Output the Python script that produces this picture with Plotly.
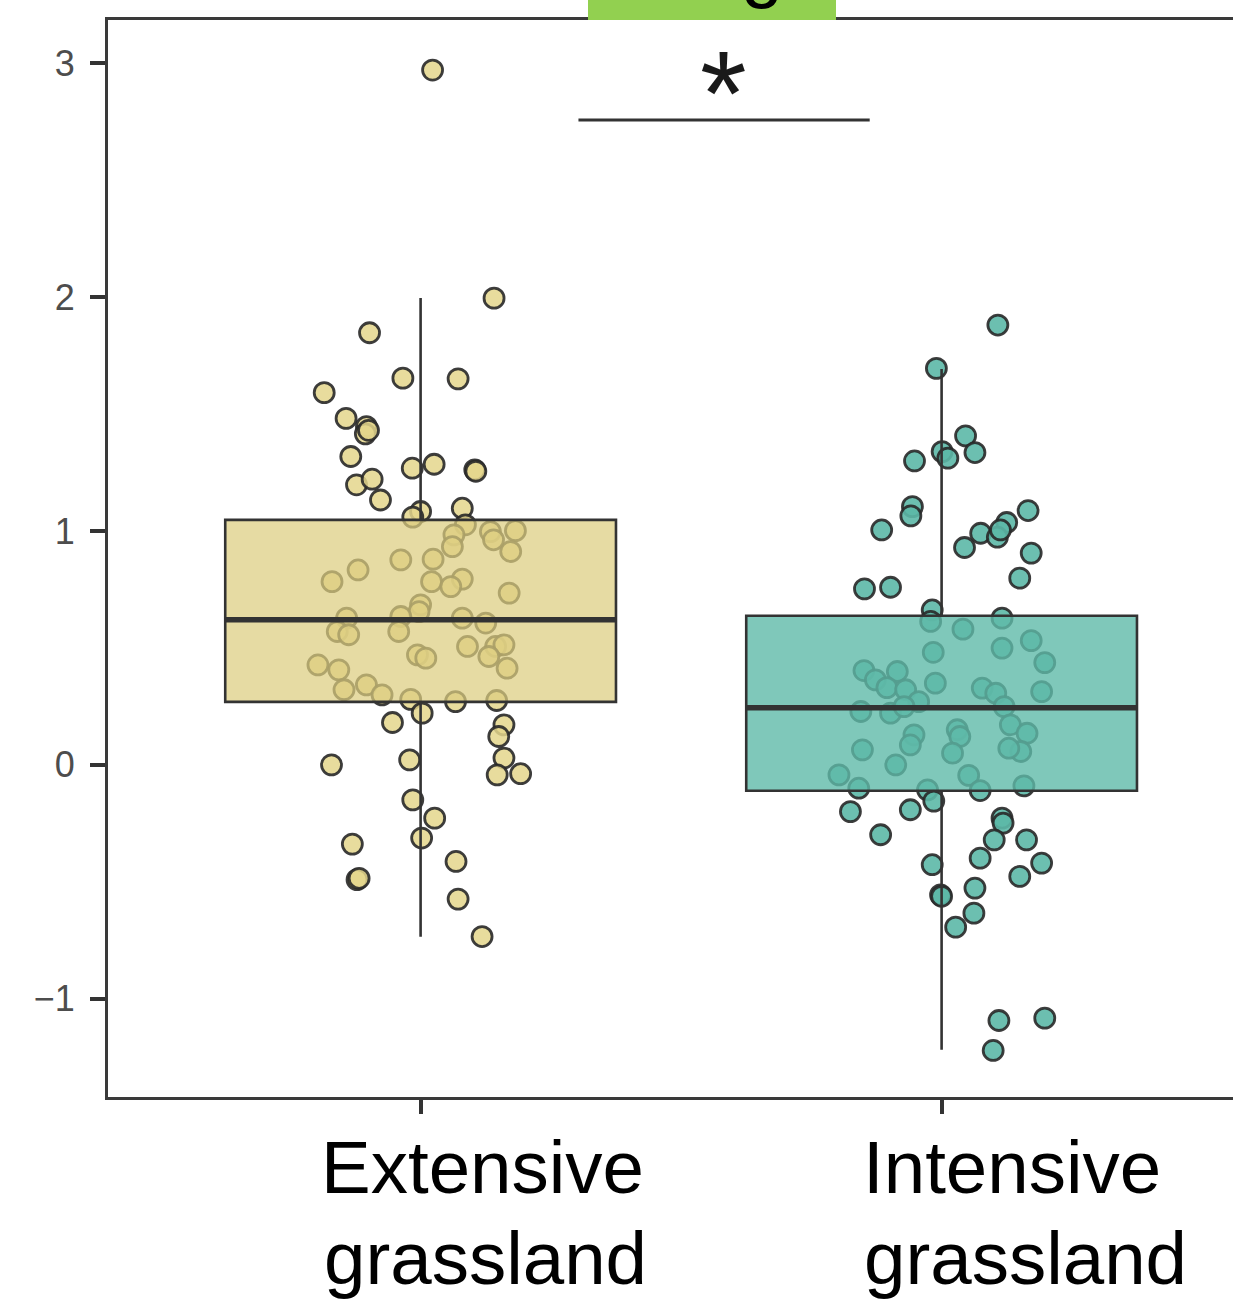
import plotly.graph_objects as go

# ---------------- data ----------------
categories = ["Extensive grassland", "Intensive grassland"]
cat_pos = [1, 2]

# horizontal jitter (in category units) and values of the individual points
ext_jitter = [0.023, 0.141, -0.098, -0.034, 0.072, -0.185, -0.143, -0.104, -0.106, -0.100,
              -0.134, -0.123, -0.093, -0.077, -0.016, 0.026, 0.104, 0.106, 0.000, -0.015,
              0.080, 0.086, 0.064, 0.061, 0.134, 0.182, 0.173, -0.038, 0.024, -0.120,
              -0.170, 0.021, 0.080, 0.058, 0.170, 0.000, -0.003, -0.142, -0.038, 0.080,
              0.125, -0.160, -0.138, -0.042, -0.006, 0.010, 0.090, 0.144, 0.160, 0.131,
              0.166, -0.197, -0.157, -0.147, -0.104, -0.074, -0.019, 0.067, 0.146, 0.003,
              -0.054, 0.160, 0.150, 0.160, 0.147, 0.192, -0.171, -0.021, -0.015, 0.027,
              0.002, -0.131, -0.122, -0.118, 0.068, 0.072, 0.118, 0.140]
ext_values = [2.970, 1.995, 1.847, 1.653, 1.650, 1.591, 1.481, 1.446, 1.415, 1.430,
              1.318, 1.197, 1.221, 1.132, 1.268, 1.285, 1.261, 1.255, 1.083, 1.059,
              1.097, 1.026, 0.983, 0.933, 0.997, 1.001, 0.912, 0.876, 0.879, 0.833,
              0.783, 0.783, 0.794, 0.762, 0.734, 0.684, 0.655, 0.627, 0.634, 0.627,
              0.606, 0.570, 0.556, 0.570, 0.470, 0.456, 0.506, 0.506, 0.513, 0.463,
              0.413, 0.427, 0.406, 0.321, 0.342, 0.299, 0.280, 0.270, 0.275, 0.221,
              0.181, 0.171, 0.121, 0.029, -0.043, -0.038, 0.000, 0.021, -0.150, -0.228,
              -0.313, -0.339, -0.491, -0.485, -0.413, -0.574, -0.734, 0.962]

int_jitter = [0.108, -0.010, 0.046, 0.001, 0.012, 0.064, -0.052, -0.056, -0.059, -0.115,
              0.166, 0.125, 0.075, 0.107, 0.113, 0.044, 0.172, 0.150, -0.148, -0.098,
              -0.018, -0.021, 0.116, 0.041, 0.116, 0.172, 0.198, -0.016, -0.149, -0.085,
              -0.127, -0.012, 0.078, 0.104, 0.192, -0.105, -0.069, -0.044, -0.155, -0.098,
              -0.072, 0.120, 0.132, 0.164, 0.152, 0.129, 0.030, 0.035, 0.021, -0.053,
              -0.060, -0.152, -0.088, -0.197, -0.159, 0.052, 0.074, 0.158, -0.027, -0.015,
              -0.175, -0.060, -0.117, 0.116, 0.118, 0.101, 0.163, 0.074, 0.192, 0.150,
              -0.018, -0.002, 0.000, 0.064, 0.062, 0.027, 0.110, 0.198, 0.099]
int_values = [1.880, 1.695, 1.406, 1.339, 1.311, 1.335, 1.299, 1.104, 1.064, 1.004,
              1.087, 1.036, 0.990, 0.973, 1.004, 0.929, 0.905, 0.798, 0.752, 0.759,
              0.662, 0.613, 0.627, 0.580, 0.499, 0.531, 0.437, 0.481, 0.403, 0.399,
              0.363, 0.349, 0.328, 0.306, 0.313, 0.330, 0.321, 0.270, 0.228, 0.221,
              0.249, 0.249, 0.171, 0.135, 0.057, 0.071, 0.150, 0.121, 0.050, 0.128,
              0.085, 0.064, 0.000, -0.043, -0.100, -0.045, -0.110, -0.090, -0.107, -0.155,
              -0.200, -0.192, -0.299, -0.228, -0.249, -0.321, -0.321, -0.399, -0.420, -0.477,
              -0.427, -0.556, -0.562, -0.527, -0.634, -0.694, -1.093, -1.083, -1.221]

# box statistics
box_q1 = [0.269, -0.111]
box_median = [0.620, 0.244]
box_q3 = [1.047, 0.637]
box_low = [-0.735, -1.218]
box_high = [1.996, 1.692]

y_tickvals = [-1, 0, 1, 2, 3]
sig_label = "*"
header_label = "g"

# ---------------- styling ----------------
FONT = "Liberation Sans, Arial, sans-serif"
point_fill = ["rgba(228,214,140,0.85)", "rgba(92,184,167,0.9)"]
box_fill = ["rgba(220,205,128,0.72)", "rgba(95,186,169,0.8)"]
edge = "#333333"
box_w = 0.75
x_range = [0.4, 0.4 + 1125 / 521]
y_range = [-1.42, 3.184]

fig = go.Figure()

groups = [(ext_jitter, ext_values), (int_jitter, int_values)]
for i, (jit, vals) in enumerate(groups):
    fig.add_trace(go.Scatter(
        x=[cat_pos[i] + d for d in jit], y=vals, mode="markers",
        marker=dict(size=20, color=point_fill[i],
                    line=dict(color="rgba(40,40,40,0.9)", width=2.8)),
        xaxis="x", yaxis="y", showlegend=False, hoverinfo="skip"))

for i in range(len(categories)):
    fig.add_trace(go.Box(
        x=[cat_pos[i]], q1=[box_q1[i]], median=[box_median[i]], q3=[box_q3[i]],
        lowerfence=[box_low[i]], upperfence=[box_high[i]],
        width=box_w, whiskerwidth=0, fillcolor=box_fill[i],
        line=dict(color=edge, width=2.6), boxpoints=False,
        xaxis="x2", yaxis="y2", showlegend=False, hoverinfo="skip"))
    fig.add_trace(go.Scatter(
        x=[cat_pos[i] - box_w / 2, cat_pos[i] + box_w / 2], y=[box_median[i]] * 2,
        mode="lines", line=dict(color=edge, width=5.5),
        xaxis="x2", yaxis="y2", showlegend=False, hoverinfo="skip"))

fig.update_layout(
    width=1233, height=1300,
    margin=dict(l=108, r=0, t=20, b=203, pad=0),
    plot_bgcolor="white", paper_bgcolor="white",
    font=dict(family=FONT),
    xaxis=dict(range=x_range, tickvals=cat_pos, ticktext=["", ""], ticks="outside",
               ticklen=14, tickwidth=4, tickcolor=edge, showline=True, linecolor="#3a3a3a",
               linewidth=3, mirror=True, showgrid=False, zeroline=False, fixedrange=True),
    yaxis=dict(range=y_range, tickvals=y_tickvals, ticks="outside", ticklen=15, tickwidth=4,
               tickcolor=edge, showline=True, linecolor="#3a3a3a", linewidth=3,
               showgrid=False, zeroline=False, ticklabelstandoff=8,
               tickfont=dict(size=36, color="#4d4d4d", family=FONT)),
    xaxis2=dict(range=x_range, overlaying="x", visible=False),
    yaxis2=dict(range=y_range, overlaying="y", visible=False),
)

# significance bracket
fig.add_shape(type="line", xref="x", yref="y", x0=1.303, x1=1.862, y0=2.756, y1=2.756,
              line=dict(color=edge, width=3))
fig.add_annotation(x=1.582, y=2.871, xref="x", yref="y", text=sig_label, showarrow=False,
                   font=dict(size=120, color="#1a1a1a", family=FONT), yanchor="middle")

# header strip (cut off at the top, as in the original)
fig.add_shape(type="rect", xref="paper", yref="paper",
              x0=(588 - 108) / 1125, x1=(836 - 108) / 1125, y0=1, y1=1 + 21 / 1077,
              fillcolor="#92D050", line=dict(width=0), layer="above")
fig.add_annotation(x=(762 - 108) / 1125, y=1, xref="paper", yref="paper", yanchor="middle",
                   yshift=54, text=header_label, showarrow=False,
                   font=dict(size=76, color="black", family=FONT))

# category labels (two lines, left aligned, offset as in the original)
label_shift = [[-102, -99], [-81, -80]]
line_shift = [-70.7, -161.7]
for i, cat in enumerate(categories):
    words = cat.split(" ")
    for j, w in enumerate(words):
        fig.add_annotation(x=cat_pos[i], y=0, xref="x", yref="paper", text=w,
                           xanchor="left", yanchor="middle", xshift=label_shift[i][j],
                           yshift=line_shift[j], showarrow=False,
                           font=dict(size=74.5, color="black", family=FONT))

fig.write_html("out.html", config={"displayModeBar": False},
               post_script="document.body.style.margin='0';document.body.style.overflow='hidden';")
